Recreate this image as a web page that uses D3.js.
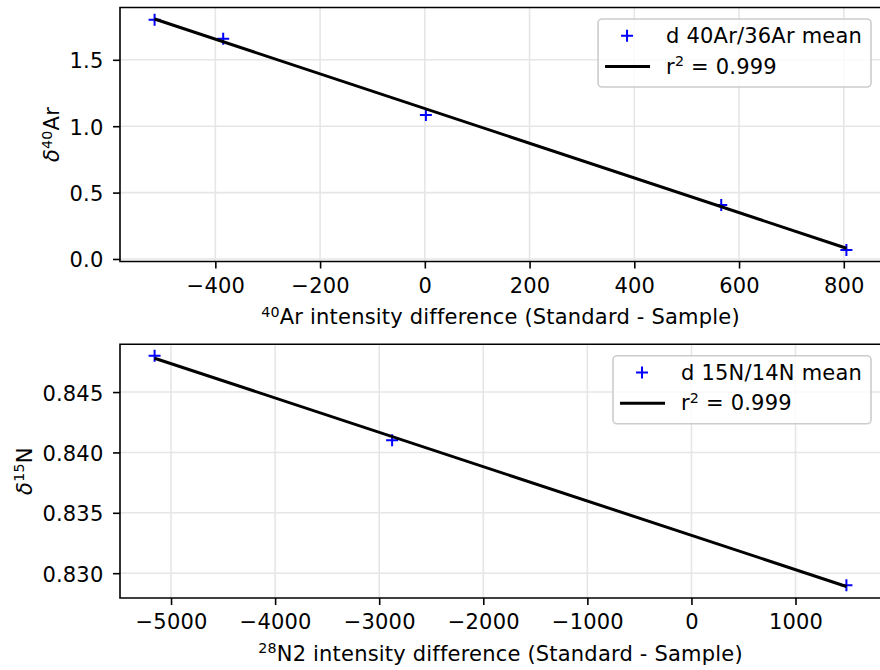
<!DOCTYPE html>
<html>
<head>
<meta charset="utf-8">
<script src="https://cdn.jsdelivr.net/npm/d3@7"></script>
<style>
  body { margin: 0; background: #fff; }
  svg text { font-family: "DejaVu Sans", sans-serif; fill: #000; letter-spacing: 0.2px; }
</style>
</head>
<body>
<svg id="chart" width="880" height="670"></svg>
<script>
// top panel: argon
var arX = [-516, -385, 2, 566, 805];
var arY = [1.801, 1.658, 1.085, 0.407, 0.068];
var arFitX = [-516, 805];
var arFitY = [1.807, 0.081];
var arXTicks = [-400, -200, 0, 200, 400, 600, 800];
var arYTicks = [0.0, 0.5, 1.0, 1.5];

// bottom panel: nitrogen
var nX = [-5158, -2876, 1489];
var nY = [0.848, 0.841, 0.829];
var nFitX = [-5158, 1489];
var nFitY = [0.8478, 0.8289];
var nXTicks = [-5000, -4000, -3000, -2000, -1000, 0, 1000];
var nYTicks = [0.830, 0.835, 0.840, 0.845];

var svg = d3.select('#chart');
var FS = 21;

// pad domain by 5% like matplotlib does
function padded(vals) {
  var e = d3.extent(vals);
  var p = (e[1] - e[0]) * 0.05;
  return [e[0] - p, e[1] + p];
}

// text with a superscript bit: parts = [[text, 'n'|'s'|'i'], ...]
function richText(sel, parts, size) {
  parts.forEach(function(p) {
    var t = sel.append('tspan').text(p[0]);
    if (p[1] === 's') {
      t.attr('font-size', size * 0.68).attr('dy', -size * 0.35);
    } else if (p[1] === 'i') {
      t.attr('font-style', 'italic');
    } else if (p[1] === 'n') {
      t.attr('dy', size * 0.35);
    }
  });
}

function plusPath(cx, cy) {
  return 'M' + (cx - 6) + ',' + cy + 'H' + (cx + 6) + 'M' + cx + ',' + (cy - 6) + 'V' + (cy + 6);
}

function panel(cfg) {
  var x = d3.scaleLinear().domain(padded(cfg.xs.concat(cfg.fitX))).range([cfg.left, cfg.right]);
  var y = d3.scaleLinear().domain(padded(cfg.ys.concat(cfg.fitY))).range([cfg.bottom, cfg.top]);
  var g = svg.append('g');

  g.append('defs').append('clipPath').attr('id', 'clip' + cfg.id)
    .append('rect').attr('x', cfg.left).attr('y', cfg.top)
    .attr('width', cfg.right - cfg.left).attr('height', cfg.bottom - cfg.top);

  // grid
  g.selectAll('.gx').data(cfg.xTicks).enter().append('line')
    .attr('x1', function(d) { return x(d); }).attr('x2', function(d) { return x(d); })
    .attr('y1', cfg.top).attr('y2', cfg.bottom)
    .attr('stroke', '#e6e6e6').attr('stroke-width', 1.6);
  g.selectAll('.gy').data(cfg.yTicks).enter().append('line')
    .attr('y1', function(d) { return y(d); }).attr('y2', function(d) { return y(d); })
    .attr('x1', cfg.left).attr('x2', cfg.right)
    .attr('stroke', '#e6e6e6').attr('stroke-width', 1.6);

  // axes via d3
  var xAxis = d3.axisBottom(x).tickValues(cfg.xTicks).tickSize(7).tickPadding(8).tickFormat(d3.format('d'));
  var yAxis = d3.axisLeft(y).tickValues(cfg.yTicks).tickSize(7).tickPadding(9.5).tickFormat(d3.format(cfg.yFmt));
  var gx = g.append('g').attr('transform', 'translate(0,' + cfg.bottom + ')').call(xAxis);
  var gy = g.append('g').attr('transform', 'translate(' + cfg.left + ',0)').call(yAxis);
  [gx, gy].forEach(function(a) {
    a.select('.domain').remove();
    a.selectAll('line').attr('stroke', '#000').attr('stroke-width', 1.6);
    a.selectAll('text').attr('font-size', FS).attr('font-family', 'DejaVu Sans').attr('fill', '#000');
  });
  gx.selectAll('text').attr('dy', null).attr('y', 31);
  gy.selectAll('text').attr('dy', null).attr('y', 8);

  // points
  g.append('g').attr('clip-path', 'url(#clip' + cfg.id + ')')
    .selectAll('path').data(cfg.xs).enter().append('path')
    .attr('d', function(d, i) { return plusPath(x(d), y(cfg.ys[i])); })
    .attr('stroke', '#0000ff').attr('stroke-width', 2).attr('fill', 'none');

  // fit line
  var line = d3.line().x(function(d) { return x(d[0]); }).y(function(d) { return y(d[1]); });
  g.append('path').datum(d3.zip(cfg.fitX, cfg.fitY))
    .attr('d', line).attr('fill', 'none').attr('stroke', '#000').attr('stroke-width', 3)
    .attr('clip-path', 'url(#clip' + cfg.id + ')');

  // spines
  g.append('path')
    .attr('d', 'M' + cfg.right + ',' + cfg.top + 'H' + cfg.left + 'V' + cfg.bottom + 'H' + cfg.right)
    .attr('fill', 'none').attr('stroke', '#000').attr('stroke-width', 1.6);

  // axis labels
  var xl = g.append('text').attr('x', (cfg.left + cfg.right) / 2).attr('y', cfg.bottom + 62.5)
    .attr('text-anchor', 'middle').attr('font-size', FS);
  richText(xl, cfg.xLabel, FS);
  var yl = g.append('text').attr('text-anchor', 'middle').attr('font-size', FS)
    .attr('transform', 'translate(' + cfg.yLabelX + ',' + (cfg.top + cfg.bottom) / 2 + ') rotate(-90)');
  richText(yl, cfg.yLabel, FS);

  // legend
  var lg = g.append('g');
  var box = lg.append('rect');
  var t1 = lg.append('text').attr('y', cfg.top + 35.8).attr('font-size', FS).text(cfg.legendName);
  var t2 = lg.append('text').attr('y', cfg.top + 66).attr('font-size', FS);
  richText(t2, [['r', ''], ['2', 's'], [' = 0.999', 'n']], FS);
  var w = Math.max(t1.node().getComputedTextLength(), t2.node().getComputedTextLength());
  var bx = 871 - w - 77;
  t1.attr('x', bx + 68);
  t2.attr('x', bx + 68);
  box.attr('x', bx).attr('y', cfg.top + 11.5).attr('width', 871 - bx).attr('height', 68)
    .attr('rx', 4).attr('fill', '#fff').attr('fill-opacity', 0.8)
    .attr('stroke', '#cccccc').attr('stroke-width', 1.6);
  lg.append('path').attr('d', plusPath(bx + 29, cfg.top + 28.2))
    .attr('stroke', '#0000ff').attr('stroke-width', 2);
  lg.append('line').attr('x1', bx + 7).attr('x2', bx + 52)
    .attr('y1', cfg.top + 59).attr('y2', cfg.top + 59)
    .attr('stroke', '#000').attr('stroke-width', 3);
}

panel({
  id: 'ar', left: 120, right: 881, top: 7.5, bottom: 261.5,
  xs: arX, ys: arY, fitX: arFitX, fitY: arFitY,
  xTicks: arXTicks, yTicks: arYTicks, yFmt: '.1f',
  xLabel: [['40', 's'], ['Ar intensity difference (Standard - Sample)', 'n']],
  yLabel: [['δ', 'i'], ['40', 's'], ['Ar', 'n']],
  yLabelX: 59, legendName: 'd 40Ar/36Ar mean'
});

panel({
  id: 'n', left: 120, right: 881, top: 344.3, bottom: 598,
  xs: nX, ys: nY, fitX: nFitX, fitY: nFitY,
  xTicks: nXTicks, yTicks: nYTicks, yFmt: '.3f',
  xLabel: [['28', 's'], ['N2 intensity difference (Standard - Sample)', 'n']],
  yLabel: [['δ', 'i'], ['15', 's'], ['N', 'n']],
  yLabelX: 31.7, legendName: 'd 15N/14N mean'
});
</script>
</body>
</html>
